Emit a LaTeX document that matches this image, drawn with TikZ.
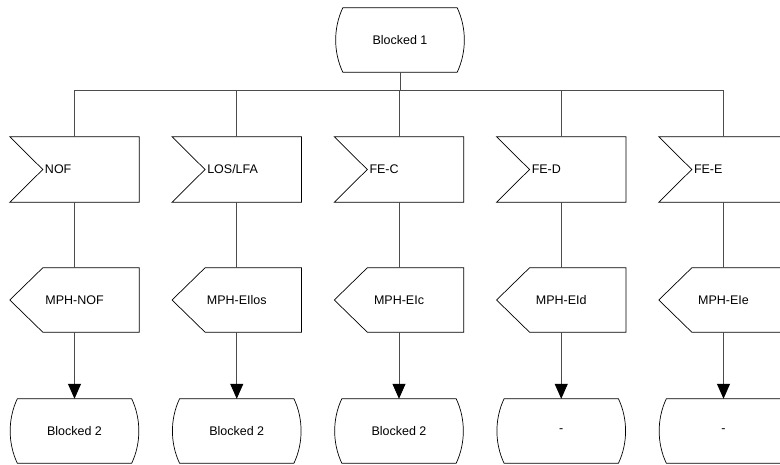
\documentclass[tikz,border=0pt]{standalone}
\usepackage{fontspec}
\setmainfont{Liberation Sans}
\usetikzlibrary{arrows.meta,calc}

\tikzset{
  box/.style={rectangle, inner sep=0pt, minimum width=129pt, minimum height=65pt,
              font=\fontsize{12.5}{14}\selectfont},
  statebox/.style={box, minimum width=128pt, minimum height=64pt},
  inbox/.style={box, text width=129pt, align=left},
  outbox/.style={box, minimum height=64pt},
  outline/.style={draw=black, line width=0.7pt, line join=miter},
  wire/.style={draw=black!70, line width=0.9pt},
  flow/.style={wire, -{Triangle[width=13pt,length=15pt,color=black,fill=black]}},
}

% SDL state symbol drawn around a named node
\newcommand{\sdlstate}[1]{%
  \draw[outline] ($(#1.north west)+(7,0)$) -- ($(#1.north east)+(-7,0)$)
    .. controls +(9.5,20) and +(9.5,-20) .. ($(#1.south east)+(-7,0)$)
    -- ($(#1.south west)+(7,0)$)
    .. controls +(-9.5,-20) and +(-9.5,20) .. cycle;}
% SDL input symbol (notched on the left)
\newcommand{\sdlinput}[1]{%
  \draw[outline] (#1.north west) -- (#1.north east) -- (#1.south east)
    -- (#1.south west) -- ($(#1.west)+(33,0)$) -- cycle;}
% SDL output symbol (pointed on the left)
\newcommand{\sdloutput}[1]{%
  \draw[outline] ($(#1.north west)+(33,0)$) -- (#1.north east) -- (#1.south east)
    -- ($(#1.south west)+(33,0)$) -- (#1.west) -- cycle;}

\begin{document}
\begin{tikzpicture}[x=1pt, y=-1pt]
  \useasboundingbox (0,0) rectangle (780,465);
  \clip (0,0) rectangle (780,465);

  \node[statebox] (st1) at (400,40) {Blocked 1};
  \sdlstate{st1}
  \coordinate (bus) at (400,90);

  \foreach \i/\colx/\signame/\outname/\statename in {
      1/74.5/NOF/MPH-NOF/Blocked 2,
      2/236.75/LOS\slash LFA/MPH-EIlos/Blocked 2,
      3/399/FE-C/MPH-EIc/Blocked 2,
      4/561.25/FE-D/MPH-EId/-,
      5/723.5/FE-E/MPH-EIe/-}{
    \node[inbox]    (in\i)  at (\colx,169.5) {\hspace*{35pt}\signame};
    \node[outbox]   (out\i) at (\colx,300)   {\outname};
    \node[statebox] (stb\i) at (\colx,431)   {\statename};
    \sdlinput{in\i}
    \sdloutput{out\i}
    \sdlstate{stb\i}
    \draw[wire] (bus) -| (in\i.north);
    \draw[wire] (in\i.south) -- (out\i.north);
    \draw[flow] (out\i.south) -- (stb\i.north);
  }
  \draw[wire] (st1.south) -- (bus);
\end{tikzpicture}
\end{document}
